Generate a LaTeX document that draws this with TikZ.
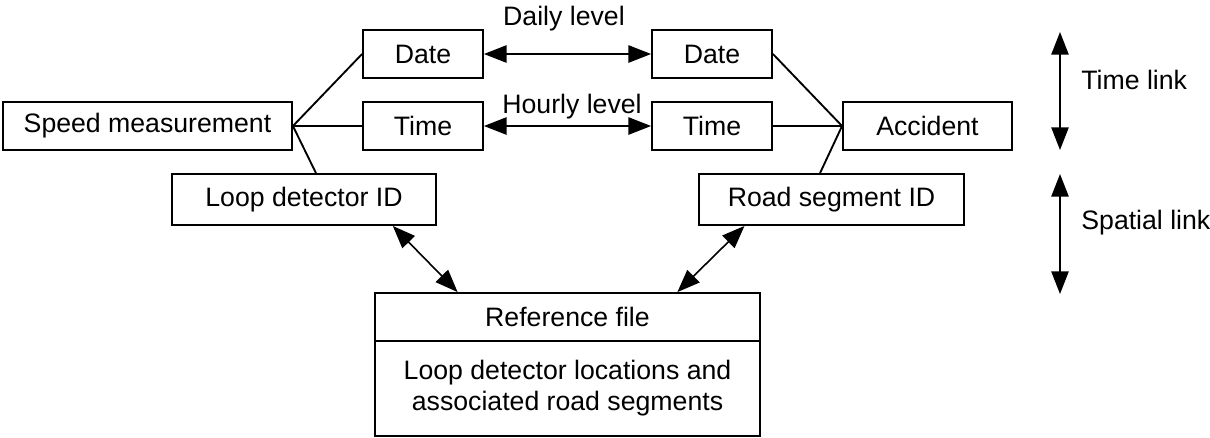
\documentclass[tikz,border=0pt]{standalone}
\usepackage{fontspec}
\setmainfont{Liberation Sans}
\usetikzlibrary{arrows.meta,calc}
\newcommand{\pxu}{0.75pt}
\begin{document}
\begin{tikzpicture}[x=0.75pt,y=-0.75pt,
    font=\fontsize{20}{23.3}\selectfont,
    line width=1.4pt,
    box/.style={draw,inner sep=0pt,align=center},
    link/.style={{Triangle[length=17pt,width=13pt]}-{Triangle[length=17pt,width=13pt]},line width=1.2pt}]
\useasboundingbox (0,0) rectangle (1210,437);

% speed data side
\node[box,minimum width=289*\pxu,minimum height=48*\pxu] (speed) at (147.5,126) {Speed measurement};
\node[box,minimum width=120*\pxu,minimum height=48*\pxu] (dateL) at (423,54) {Date};
\node[box,minimum width=120*\pxu,minimum height=48*\pxu] (timeL) at (423,126) {Time};
\node[box,minimum width=264*\pxu,minimum height=51*\pxu] (loop) at (304,199.5) {Loop detector ID};

% accident side
\node[box,minimum width=169*\pxu,minimum height=48*\pxu] (acc) at (927.5,126) {Accident};
\node[box,minimum width=120*\pxu,minimum height=48*\pxu] (dateR) at (712,54) {Date};
\node[box,minimum width=120*\pxu,minimum height=48*\pxu] (timeR) at (712,126) {Time};
\node[box,minimum width=265*\pxu,minimum height=51*\pxu] (road) at (831.5,199.5) {Road segment ID};

% reference file
\node[box,minimum width=385*\pxu,minimum height=48*\pxu] (refA) at (567.5,317) {Reference file};
\node[box,minimum width=385*\pxu,minimum height=95*\pxu] (refB) at (567.5,388.5) {Loop detector locations and\\associated road segments};

\draw (speed.east) -- (dateL.west);
\draw (speed.east) -- (timeL.west);
\draw (speed.east) -- ($(loop.north west)!0.545!(loop.north east)$);
\draw (acc.west) -- (dateR.east);
\draw (acc.west) -- (timeR.east);
\draw (acc.west) -- ($(road.north west)!0.457!(road.north east)$);

\draw[link] (dateL) -- (dateR);
\node[anchor=base] (daily) at (564,25) {Daily level};
\draw[link] (timeL) -- (timeR);
\node[anchor=base] (hourly) at (572,113) {Hourly level};

\draw[link] ($(loop.south west)!0.834!(loop.south east)$) -- ($(refA.north west)!0.216!(refA.north east)$);
\draw[link] ($(road.south west)!0.174!(road.south east)$) -- ($(refA.north west)!0.784!(refA.north east)$);

% link scale on the right
\coordinate (t1) at (1060,32);
\coordinate (t2) at (1060,150);
\draw[link] (t1) -- (t2);
\node[anchor=west] (timelink) at (1076,80) {Time link};
\coordinate (s1) at (1060,174);
\coordinate (s2) at (1060,294);
\draw[link] (s1) -- (s2);
\node[anchor=west] (spatlink) at (1076,223) {Spatial link};
\end{tikzpicture}
\end{document}
